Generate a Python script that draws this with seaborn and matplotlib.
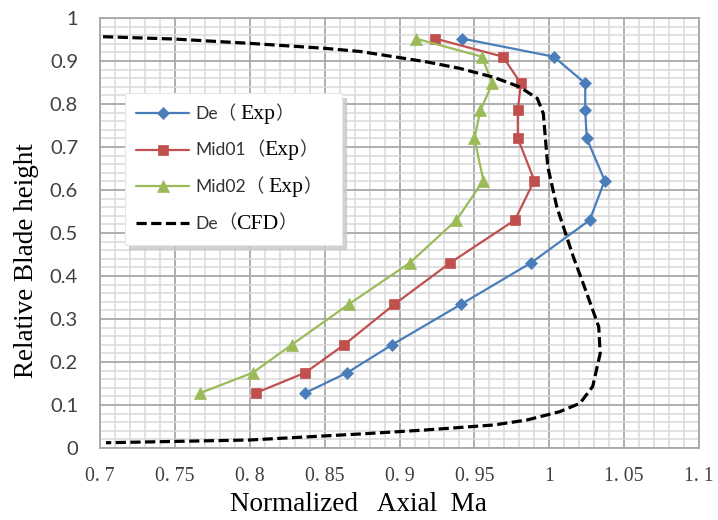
import matplotlib
matplotlib.use("Agg")
import matplotlib.pyplot as plt
from matplotlib.ticker import MultipleLocator, FixedLocator, FixedFormatter
from matplotlib.offsetbox import TextArea, HPacker
import pandas as pd
import seaborn as sns

# ---- measured profiles: relative blade height vs. normalized axial Mach number ----
heights = [0.128, 0.175, 0.240, 0.334, 0.431, 0.530, 0.622, 0.720, 0.785, 0.848, 0.910, 0.952]
ma_de = [0.837, 0.865, 0.895, 0.941, 0.988, 1.027, 1.037, 1.025, 1.024, 1.024, 1.003, 0.942]
ma_mid01 = [0.804, 0.837, 0.863, 0.8965, 0.934, 0.977, 0.990, 0.979, 0.979, 0.981, 0.969, 0.924]
ma_mid02 = [0.767, 0.802, 0.828, 0.866, 0.907, 0.938, 0.956, 0.950, 0.954, 0.962, 0.955, 0.911]

# ---- CFD profile for the design point ----
cfd_ma = [0.702, 0.750, 0.800, 0.850, 0.874, 0.896, 0.918, 0.940, 0.963, 0.980,
          0.992, 0.996, 0.9975, 0.999, 1.005, 1.016, 1.025, 1.033, 1.034, 1.029,
          1.0205, 1.007, 0.985, 0.963, 0.918, 0.874, 0.800, 0.704]
cfd_h = [0.9565, 0.951, 0.941, 0.9295, 0.922, 0.910, 0.898, 0.883, 0.862, 0.840,
         0.813, 0.778, 0.716, 0.654, 0.561, 0.445, 0.360, 0.282, 0.220, 0.143,
         0.104, 0.0845, 0.065, 0.0535, 0.042, 0.0326, 0.0186, 0.0122]

series_labels = ["De（ Exp）", "Mid01（Exp）", "Mid02（ Exp）", "De（CFD）"]
legend_parts = [("De", "（ ", "Exp", "）"),
                ("Mid01", "（", "Exp", "）"),
                ("Mid02", "（ ", "Exp", "）"),
                ("De", "（", "CFD", "）")]

xtick_values = [0.70, 0.75, 0.80, 0.85, 0.90, 0.95, 1.00, 1.05, 1.10]
xtick_labels = ["0. 7", "0. 75", "0. 8", "0. 85", "0. 9", "0. 95", "1", "1. 05", "1. 1"]
ytick_values = [0.0, 0.1, 0.2, 0.3, 0.4, 0.5, 0.6, 0.7, 0.8, 0.9, 1.0]
ytick_labels = ["0", "0.1", "0.2", "0.3", "0.4", "0.5", "0.6", "0.7", "0.8", "0.9", "1"]

sns.set_theme(style="white")
plt.rcParams["font.family"] = ["Liberation Serif", "Noto Sans CJK SC"]

fig = plt.figure(figsize=(7.18, 5.2), dpi=100)
ax = fig.add_axes([0.1393, 0.1385, 0.8343, 0.8269])

exp_styles = [
    (ma_de, "#4a7ebb", "D", 6.0),
    (ma_mid01, "#c0504d", "s", 7.8),
    (ma_mid02, "#9bbb59", "^", 8.3),
]
for (values, color, marker, msize), label in zip(exp_styles, series_labels[:3]):
    frame = pd.DataFrame({"ma": values, "h": heights})
    sns.lineplot(data=frame, x="ma", y="h", sort=False, estimator=None, ax=ax,
                 color=color, lw=1.6, marker=marker, markersize=msize,
                 markeredgecolor=color, markeredgewidth=0.5, label=label, zorder=3)

cfd_frame = pd.DataFrame({"ma": cfd_ma, "h": cfd_h})
sns.lineplot(data=cfd_frame, x="ma", y="h", sort=False, estimator=None, ax=ax,
             color="black", lw=2.3, linestyle=(0, (3.2, 1.4)),
             label=series_labels[3], zorder=4)

# axes range, grid and ticks
ax.set_xlim(0.7, 1.1)
ax.set_ylim(0.0, 1.0)
ax.xaxis.set_major_locator(FixedLocator(xtick_values))
ax.xaxis.set_major_formatter(FixedFormatter(xtick_labels))
ax.yaxis.set_major_locator(FixedLocator(ytick_values))
ax.yaxis.set_major_formatter(FixedFormatter(ytick_labels))
ax.xaxis.set_minor_locator(MultipleLocator(0.01))
ax.yaxis.set_minor_locator(MultipleLocator(0.02))
ax.set_axisbelow(True)
ax.grid(which="major", color="#a8a8a8", lw=1.3)
ax.grid(which="minor", color="#d8d8d8", lw=1.1)
for spine in ax.spines.values():
    spine.set_color("#a8a8a8")
    spine.set_linewidth(1.3)

ax.tick_params(axis="x", which="major", direction="out", length=3.8, width=1.2,
               color="#a8a8a8", pad=10, labelsize=14.3, labelcolor="#404040")
ax.tick_params(axis="y", which="major", direction="out", length=5.8, width=1.2,
               color="#a8a8a8", pad=10, labelsize=14.5, labelcolor="#404040")
ax.tick_params(which="minor", length=0)
for lab in ax.get_yticklabels():
    lab.set_family("Lato")
for lab in ax.get_xticklabels():
    lab.set_family("Liberation Serif")

ax.set_xlabel("Normalized   Axial  Ma", fontsize=19.5, family="Liberation Serif",
              color="black")
ax.set_ylabel("Relative Blade height", fontsize=19.5, family="Liberation Serif",
              color="black")
ax.xaxis.set_label_coords(0.4316, -0.1326)
ax.xaxis.label.set_va("center")
ax.yaxis.set_label_coords(-0.1235, 0.437)
ax.yaxis.label.set_va("center")

# legend with mixed sans / serif label text
handles, labels = ax.get_legend_handles_labels()
leg = ax.legend(handles, labels, loc="upper left",
                bbox_to_anchor=(0.0417, 0.5, 0.3618, 0.3245), mode="expand",
                borderaxespad=0, fontsize=11.4, handlelength=3.3,
                handletextpad=0.42, labelspacing=1.11, borderpad=0.72,
                frameon=True, fancybox=False, framealpha=1,
                facecolor="white", edgecolor="#e6e6e6",
                shadow={"ox": 3, "oy": -3, "color": "#c8c8c8", "alpha": 0.8})
leg.get_frame().set_linewidth(0.8)

name_props = dict(family=["Lato", "Noto Sans CJK SC"], size=12.6, color="#333333")
paren_props = dict(family=["Noto Sans CJK SC"], size=13.2, color="#333333")
serif_props = dict(family=["Liberation Serif"], size=15.6, color="black")

legend_box = leg.get_children()[0]
handle_box = legend_box.get_children()[1]
rows = [item for column in handle_box.get_children() for item in column.get_children()]
for row, (name, lpar, tag, rpar) in zip(rows, legend_parts):
    pieces = [TextArea(name, textprops=name_props),
              TextArea(lpar, textprops=paren_props),
              TextArea(tag, textprops=serif_props),
              TextArea(rpar, textprops=paren_props)]
    label_box = HPacker(children=pieces, align="baseline", pad=0, sep=0)
    label_box.set_figure(fig)
    row.get_children()[1] = label_box

fig.savefig("out.png", dpi=100, facecolor="white")
